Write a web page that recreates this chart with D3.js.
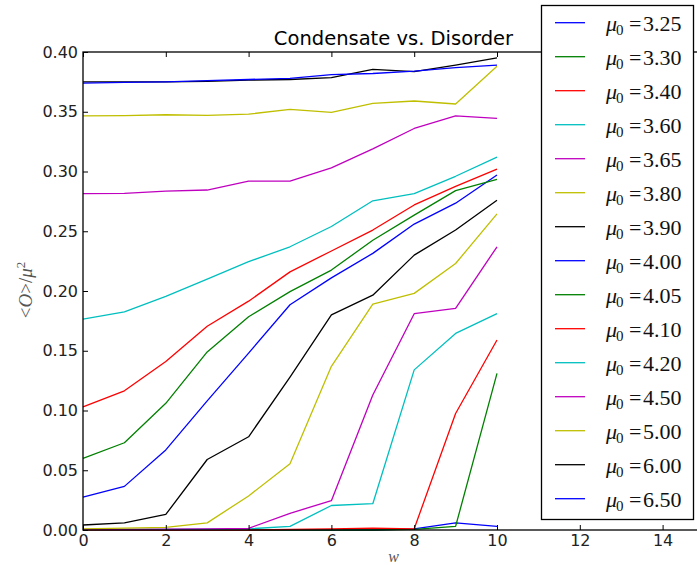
<!DOCTYPE html>
<html>
<head>
<meta charset="utf-8">
<script src="https://cdnjs.cloudflare.com/ajax/libs/d3/7.8.5/d3.min.js"></script>
<style>
  body { margin: 0; background: #fff; }
  .tick text { font-family: "DejaVu Sans", sans-serif; font-size: 16px; fill: #222; }
</style>
</head>
<body>
<svg id="plot" width="697" height="565"></svg>
<script>

	// disorder strength w
	var disorder = [0, 1, 2, 3, 4, 5, 6, 7, 8, 9, 10]

	var mu0 = ["3.25", "3.30", "3.40", "3.60", "3.65", "3.80", "3.90", "4.00",
	           "4.05", "4.10", "4.20", "4.50", "5.00", "6.00", "6.50"]

	// matplotlib classic cycle b g r c m y k
	var lineColors = ["#0000ff", "#008000", "#ff0000", "#00bfbf", "#bf00bf", "#bfbf00", "#000000"]

	var cond325 = [0, 0, 0, 0, 0, 0, 0, 0, 0.001, 0.006, 0.003]
	var cond330 = [0, 0, 0, 0, 0, 0, 0, 0, 0.0005, 0.003, 0.131]
	var cond340 = [0, 0, 0, 0, 0, 0.0005, 0.001, 0.0015, 0.001, 0.0975, 0.159]
	var cond360 = [0.0003, 0.0004, 0.0005, 0.0007, 0.001, 0.003, 0.0205, 0.022, 0.134, 0.1645, 0.181]
	var cond365 = [0.0005, 0.0006, 0.0008, 0.001, 0.0014, 0.014, 0.0245, 0.113, 0.181, 0.1855, 0.237]
	var cond380 = [0.001, 0.0015, 0.0022, 0.006, 0.0285, 0.0555, 0.137, 0.189, 0.198, 0.223, 0.2645]
	var cond390 = [0.0042, 0.006, 0.013, 0.059, 0.078, 0.128, 0.18, 0.1965, 0.23, 0.251, 0.276]
	var cond400 = [0.0275, 0.0365, 0.067, 0.108, 0.148, 0.1885, 0.211, 0.2315, 0.256, 0.2735, 0.297]
	var cond405 = [0.06, 0.073, 0.106, 0.149, 0.1785, 0.1995, 0.2175, 0.2425, 0.2635, 0.284, 0.2935]
	var cond410 = [0.103, 0.1165, 0.141, 0.1705, 0.1915, 0.216, 0.2335, 0.251, 0.272, 0.2875, 0.302]
	var cond420 = [0.1765, 0.1825, 0.1955, 0.21, 0.2245, 0.237, 0.254, 0.2755, 0.2815, 0.296, 0.312]
	var cond450 = [0.2815, 0.2817, 0.2835, 0.2845, 0.292, 0.292, 0.303, 0.319, 0.336, 0.3465, 0.3445]
	var cond500 = [0.3465, 0.3467, 0.3475, 0.347, 0.348, 0.352, 0.3495, 0.357, 0.359, 0.3565, 0.388]
	var cond600 = [0.375, 0.375, 0.375, 0.3755, 0.3765, 0.377, 0.3785, 0.3855, 0.3835, 0.389, 0.395]
	var cond650 = [0.374, 0.3745, 0.375, 0.376, 0.377, 0.378, 0.381, 0.382, 0.384, 0.387, 0.389]

	var series = [cond325, cond330, cond340, cond360, cond365, cond380, cond390, cond400,
	              cond405, cond410, cond420, cond450, cond500, cond600, cond650]

	var xTicks = [0, 2, 4, 6, 8, 10, 12, 14]
	var yTicks = [0, 0.05, 0.10, 0.15, 0.20, 0.25, 0.30, 0.35, 0.40]

	var plotL = 83, plotR = 704, plotT = 52, plotB = 530
	var svg = d3.select("#plot")

	var x = d3.scaleLinear().domain([0, 15]).range([plotL, plotR])
	var y = d3.scaleLinear().domain([0, 0.4]).range([plotB, plotT])

	// lines
	var line = d3.line()
		.x((d, i) => x(disorder[i]))
		.y(d => y(d))

	series.forEach((vals, k) => {
		svg.append("path")
		   .attr("d", line(vals))
		   .attr("fill", "none")
		   .attr("stroke", lineColors[k % lineColors.length])
		   .attr("stroke-width", 1.3)
		   .attr("stroke-linejoin", "round")
	})

	// axes, matplotlib style ticks pointing inward
	var xAxis = d3.axisBottom(x).tickValues(xTicks).tickSize(-5).tickPadding(5).tickFormat(d3.format("d"))
	var xTop = d3.axisTop(x).tickValues(xTicks).tickSize(-5).tickFormat("")
	var yAxis = d3.axisLeft(y).tickValues(yTicks).tickSize(-5).tickPadding(5).tickFormat(d3.format(".2f"))
	var yRight = d3.axisRight(y).tickValues(yTicks).tickSize(-5).tickFormat("")

	svg.append("g").attr("transform", "translate(0," + plotB + ")").call(xAxis)
	svg.append("g").attr("transform", "translate(0," + plotT + ")").call(xTop)
	svg.append("g").attr("transform", "translate(" + plotL + ",0)").call(yAxis)
	svg.append("g").attr("transform", "translate(" + plotR + ",0)").call(yRight)
	svg.selectAll(".domain").remove()
	svg.selectAll(".tick line").attr("stroke", "#000").attr("stroke-width", 1)

	svg.append("rect")
	   .attr("x", plotL).attr("y", plotT)
	   .attr("width", plotR - plotL).attr("height", plotB - plotT)
	   .attr("fill", "none").attr("stroke", "#000").attr("stroke-width", 1.3)

	// title and labels
	svg.append("text")
	   .attr("x", (plotL + plotR) / 2).attr("y", 45)
	   .attr("text-anchor", "middle")
	   .style("font-family", "DejaVu Sans").style("font-size", "19.5px")
	   .text("Condensate vs. Disorder")

	svg.append("text")
	   .attr("x", (plotL + plotR) / 2).attr("y", 562)
	   .attr("text-anchor", "middle")
	   .style("font-family", "Liberation Serif").style("font-style", "italic")
	   .style("font-size", "16px").attr("fill", "#555")
	   .text("w")

	var ylab = svg.append("text")
	   .attr("transform", "translate(32,290) rotate(-90)")
	   .attr("text-anchor", "middle")
	   .style("font-family", "Liberation Serif").style("font-size", "19px")
	   .attr("fill", "#555")
	ylab.append("tspan").text("<")
	ylab.append("tspan").style("font-style", "italic").text("O")
	ylab.append("tspan").text(">/")
	ylab.append("tspan").style("font-style", "italic").text("μ")
	ylab.append("tspan").attr("dy", -7).style("font-size", "13px").text("2")

	// legend
	var legend = svg.append("g")
	legend.append("rect")
	   .attr("x", 541.5).attr("y", 5.5).attr("width", 152).attr("height", 514)
	   .attr("fill", "#fff").attr("stroke", "#000").attr("stroke-width", 1.3)

	mu0.forEach((m, k) => {
		var ly = 22.7 + k * 34
		legend.append("line")
		   .attr("x1", 555).attr("x2", 585).attr("y1", ly).attr("y2", ly)
		   .attr("stroke", lineColors[k % lineColors.length]).attr("stroke-width", 1.3)
		var t = legend.append("text")
		   .attr("y", ly + 8)
		   .style("font-family", "Liberation Serif").style("font-size", "22px")
		   .attr("fill", "#111")
		t.append("tspan").attr("x", 606).style("font-style", "italic").text("μ")
		t.append("tspan").attr("x", 616).attr("dy", 4).style("font-size", "15px").text("0")
		t.append("tspan").attr("x", 629).attr("dy", -4).text("=")
		t.append("tspan").attr("x", 643).text(m)
	})

</script>
</body>
</html>
